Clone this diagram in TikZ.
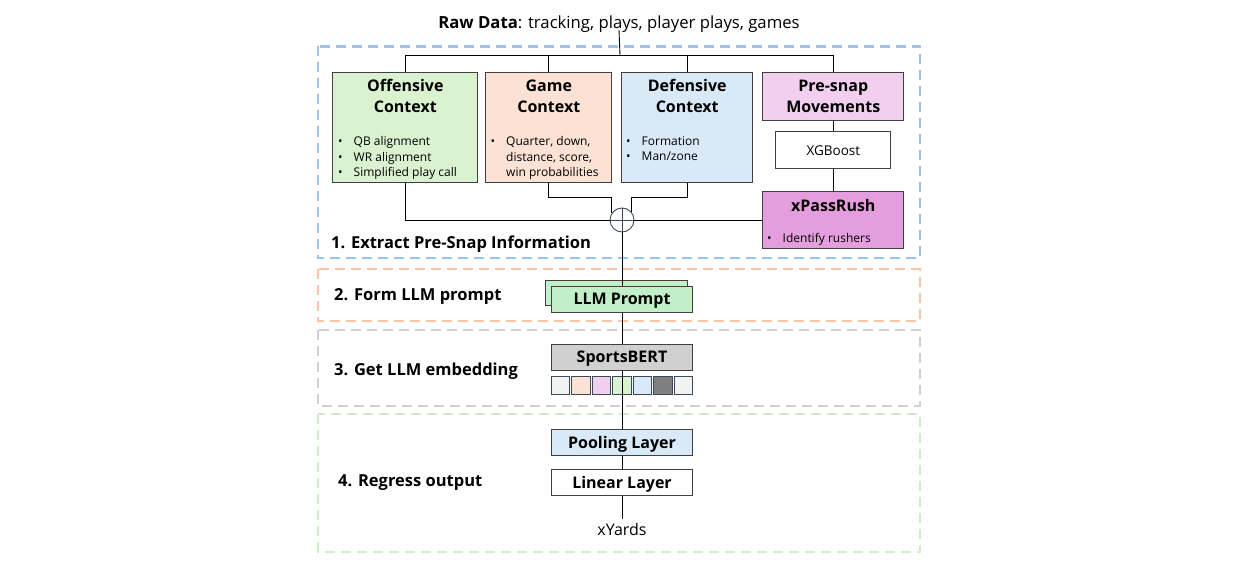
\documentclass[tikz,border=0pt]{standalone}
\usepackage{fontspec}
\setmainfont{Open Sans}

\definecolor{offgreen}{HTML}{DAF2D0}
\definecolor{gamepeach}{HTML}{FBE2D5}
\definecolor{defblue}{HTML}{DAE9F8}
\definecolor{snappink}{HTML}{F2CFEE}
\definecolor{rushpink}{HTML}{E59EDD}
\definecolor{promptgreen}{HTML}{C1F0C8}
\definecolor{bertgray}{HTML}{D0D0D0}
\definecolor{embgray}{HTML}{F2F2F2}
\definecolor{embdark}{HTML}{7F7F7F}
\definecolor{embline}{HTML}{3A4A5C}
\definecolor{boxline}{HTML}{404040}
\definecolor{framecyan}{HTML}{9DC3E6}
\definecolor{frameorange}{HTML}{F7C5A8}
\definecolor{framegray}{HTML}{D0D0D0}
\definecolor{framegreen}{HTML}{CCEFC6}

\newcommand{\bul}{\makebox[15pt][l]{\hspace*{-0.5pt}\textbullet}}

\begin{document}
\begin{tikzpicture}[x=1pt, y=-1pt,
    box/.style={draw=boxline, line width=1pt, inner sep=0pt},
    title/.style={font=\fontsize{16}{21}\selectfont\bfseries, align=center},
    list/.style={font=\fontsize{12}{15.7}\selectfont, align=left, anchor=north west, inner sep=0pt},
    label/.style={font=\fontsize{16}{19}\selectfont\bfseries, text depth=0pt},
    stage/.style={font=\fontsize{16.5}{19}\selectfont\bfseries, anchor=west, inner sep=0pt, text depth=0pt},
    frame/.style={line width=2.2pt, dash pattern=on 10pt off 6pt},
    emb/.style={draw=embline, line width=0.9pt, minimum width=18.5, minimum height=18, inner sep=0pt},
    link/.style={draw=black, line width=0.9pt}]

    \useasboundingbox (0,0) rectangle (1233,567);

    % stage frames
    \draw[frame, framecyan] (318,46.5) rectangle (920,258.3);
    \draw[frame, frameorange] (318,269.3) rectangle (920,321);
    \draw[frame, framegray] (318,330) rectangle (920,405.7);
    \draw[frame, framegreen] (318,414.3) rectangle (920,551.7);

    \node[stage] (s1) at (331,242) {1. Extract Pre-Snap Information};
    \node[stage] (s2) at (334,295) {2. Form LLM prompt};
    \node[stage] (s3) at (334,369) {3. Get LLM embedding};
    \node[stage] (s4) at (338,481) {4. Regress output};

    % raw data
    \node[font=\fontsize{16.7}{19}\selectfont, inner sep=1pt, text depth=0pt] (raw) at (619,22.5) {\textbf{Raw Data}: tracking, plays, player plays, games};
    \coordinate (split) at (620,55);

    % context boxes
    \node[box, fill=offgreen, minimum width=144.7, minimum height=110] (off) at (405.3,127.7) {};
    \node[title] (offT) at (405.3,96.2) {Offensive\\Context};
    \node[list] (offL) at (338.5,136) {\bul QB alignment\\\bul WR alignment\\\bul Simplified play call};

    \node[box, fill=gamepeach, minimum width=125.7, minimum height=110] (game) at (548.8,127.7) {};
    \node[title] (gameT) at (548.8,96.2) {Game\\Context};
    \node[list] (gameL) at (491,136) {\bul Quarter, down,\\\hspace*{15pt}distance, score,\\\hspace*{15pt}win probabilities};

    \node[box, fill=defblue, minimum width=131, minimum height=110] (def) at (687.2,127.7) {};
    \node[title] (defT) at (687.2,96.2) {Defensive\\Context};
    \node[list] (defL) at (626.5,136) {\bul Formation\\\bul Man/zone};

    \node[box, fill=snappink, minimum width=141.3, minimum height=48] (pre) at (833.3,96.7) {};
    \node[title] (preT) at (833.3,96.2) {Pre-snap\\Movements};

    \node[box, fill=white, minimum width=115, minimum height=36.7, font=\fontsize{13.5}{16}\selectfont] (xgb) at (833.3,150.3) {XGBoost};

    \node[box, fill=rushpink, minimum width=141.3, minimum height=56.6] (xpr) at (833.3,220) {};
    \node[title] (xprT) at (833.3,205.7) {xPassRush};
    \node[list] (xprL) at (767.5,233.5) {\bul Identify rushers};

    % combine
    \node[circle, draw=embline, fill=white, line width=0.9pt, minimum size=24, inner sep=0pt] (sum) at (622,220) {};
    \draw[embline, line width=0.9pt] (sum.north) -- (sum.south) (sum.west) -- (sum.east);

    \draw[link] (raw.south) -- (split);
    \draw[link] (split) -| (off.north);
    \draw[link] (split) -| (game.north);
    \draw[link] (split) -| (def.north);
    \draw[link] (split) -| (pre.north);
    \draw[link] (pre.south) -- (xgb.north);
    \draw[link] (xgb.south) -- (xpr.north);
    \draw[link] (off.south) |- (sum.west);
    \draw[link] (game.south) -- ++(0,14) -| (sum.146);
    \draw[link] (def.south) -- ++(0,14) -| (sum.42);
    \draw[link] (xpr.west) -- (sum.east);

    % prompt and model
    \node[box, fill=promptgreen, minimum width=142, minimum height=25] (promptB) at (616,292.5) {};
    \draw[link] (sum.south) -- (622,286);
    \node[box, fill=promptgreen, minimum width=141, minimum height=26, label] (prompt) at (622,299) {LLM Prompt};
    \node[box, fill=bertgray, minimum width=141, minimum height=25.7, label] (bert) at (622,357.2) {SportsBERT};
    \draw[link] (prompt.south) -- (bert.north);

    \foreach \c [count=\i] in {embgray, gamepeach, snappink, offgreen, defblue, embdark, embgray}
        \node[emb, fill=\c] (e\i) at ({622+(\i-4)*20.5},385.2) {};

    \node[box, fill=defblue, minimum width=141, minimum height=26, label] (pool) at (622,442) {Pooling Layer};
    \node[box, fill=white, minimum width=141, minimum height=26.4, label] (lin) at (622,482.5) {Linear Layer};
    \node[font=\fontsize{16}{19}\selectfont, inner sep=4pt] (out) at (622,529) {xYards};

    \draw[link] (bert.south) -- (pool.north);
    \draw[link] (pool.south) -- (lin.north);
    \draw[link] (lin.south) -- (out.north);
\end{tikzpicture}
\end{document}
